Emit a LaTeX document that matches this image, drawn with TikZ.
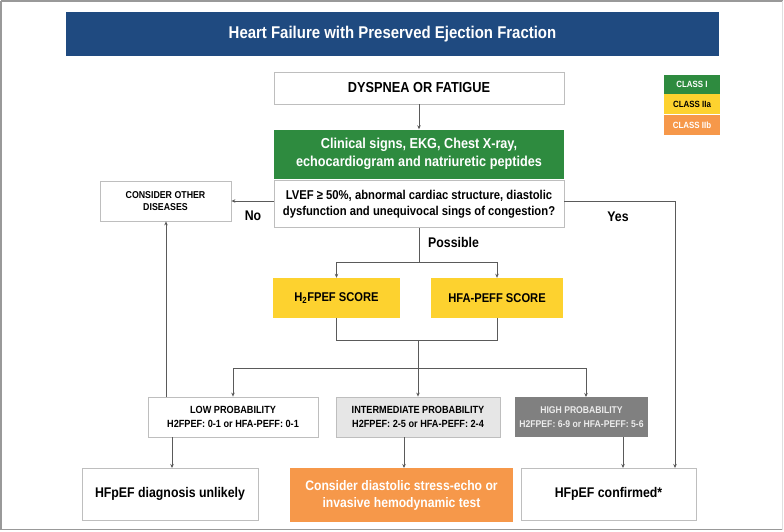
\documentclass[tikz,border=0pt]{standalone}
\usepackage{fontspec}
\setmainfont{Liberation Sans}
\newfontfamily\nar{Liberation Sans}[FakeStretch=0.88]
\usetikzlibrary{arrows.meta}
\definecolor{titleblue}{RGB}{31,74,128}
\definecolor{hgreen}{RGB}{46,139,63}
\definecolor{hyellow}{RGB}{253,210,47}
\definecolor{horange}{RGB}{246,152,74}
\definecolor{hgray}{RGB}{128,128,128}
\definecolor{lgray}{RGB}{230,230,230}
\definecolor{linec}{RGB}{90,90,90}
\definecolor{boxline}{RGB}{190,190,190}
\tikzset{
  box/.style={rectangle, draw=boxline, line width=0.8pt, fill=white, inner sep=0pt, align=center, font=\nar\bfseries},
  fbox/.style={rectangle, draw=none, inner sep=0pt, align=center, font=\nar\bfseries},
  conn/.style={draw=linec, line width=0.8pt},
  arr/.style={conn, -{Stealth[length=4pt,width=3.5pt]}},
  lbl/.style={font=\nar\bfseries\fontsize{14}{16}\selectfont, inner sep=0pt}
}
\begin{document}
\begin{tikzpicture}[x=1pt,y=-1pt]
\useasboundingbox (0,0) rectangle (784,531);
\draw[gray!80, line width=1.5pt] (0.75,0.75) -- (783.25,0.75);
\draw[gray!80, line width=1.5pt] (0.75,0.75) -- (0.75,530);
\draw[gray!80, line width=1.5pt] (0.75,529.5) -- (783.25,529.5);
\draw[gray!25, line width=1pt] (782,0.75) -- (782,530);
% title
\node[fbox, fill=titleblue, text=white, minimum width=653pt, minimum height=44pt, font=\nar\bfseries\fontsize{17}{20}\selectfont] (title) at (392.5,34) {Heart Failure with Preserved Ejection Fraction};
% legend
\node[fbox, fill=hgreen, text=white, minimum width=56pt, minimum height=19pt, font=\nar\bfseries\fontsize{9}{10}\selectfont] (c1) at (692,84) {CLASS I};
\node[fbox, fill=hyellow, text=black, minimum width=56pt, minimum height=20pt, font=\nar\bfseries\fontsize{9}{10}\selectfont] (c2) at (692,104) {CLASS IIa};
\node[fbox, fill=horange, text=white, minimum width=56pt, minimum height=20pt, font=\nar\bfseries\fontsize{9}{10}\selectfont] (c3) at (692,125) {CLASS IIb};
% main chain
\node[box, minimum width=290pt, minimum height=32pt, font=\nar\bfseries\fontsize{14.5}{16}\selectfont] (dys) at (419,88) {DYSPNEA OR FATIGUE};
\node[fbox, fill=hgreen, text=white, minimum width=290pt, minimum height=49pt, font=\nar\bfseries\fontsize{14.4}{18}\selectfont] (green) at (419,154) {Clinical signs, EKG, Chest X-ray,\\ echocardiogram and natriuretic peptides};
\node[box, minimum width=290pt, minimum height=47pt, font=\nar\bfseries\fontsize{12.8}{16}\selectfont] (lvef) at (419,204) {LVEF ≥ 50\%, abnormal cardiac structure, diastolic\\ dysfunction and unequivocal sings of congestion?};
\node[box, minimum width=131pt, minimum height=40pt, font=\nar\bfseries\fontsize{10}{12}\selectfont] (other) at (165.5,201) {CONSIDER OTHER\\ DISEASES};
% scores
\node[fbox, fill=hyellow, minimum width=127pt, minimum height=40pt, font=\nar\bfseries\fontsize{12.7}{15}\selectfont] (h2) at (336.5,298) {H\textsubscript{2}FPEF SCORE};
\node[fbox, fill=hyellow, minimum width=132pt, minimum height=40pt, font=\nar\bfseries\fontsize{12.7}{15}\selectfont] (hfa) at (497,298) {HFA-PEFF SCORE};
% probabilities
\node[box, minimum width=170pt, minimum height=40pt, font=\nar\bfseries\fontsize{10.4}{14}\selectfont] (low) at (233,417) {LOW PROBABILITY\\ H2FPEF: 0-1 or HFA-PEFF: 0-1};
\node[box, fill=lgray, minimum width=164pt, minimum height=40pt, font=\nar\bfseries\fontsize{10.4}{14}\selectfont] (mid) at (418,417) {INTERMEDIATE PROBABILITY\\ H2FPEF: 2-5 or HFA-PEFF: 2-4};
\node[fbox, fill=hgray, text=gray!15, minimum width=133pt, minimum height=40pt, font=\nar\bfseries\fontsize{9.8}{14}\selectfont] (high) at (581.5,417) {HIGH PROBABILITY\\ H2FPEF: 6-9 or HFA-PEFF: 5-6};
% outcomes
\node[box, minimum width=176pt, minimum height=52pt, font=\nar\bfseries\fontsize{14}{16}\selectfont] (unl) at (170,494) {HFpEF diagnosis unlikely};
\node[fbox, fill=horange, text=white, minimum width=223pt, minimum height=54pt, font=\nar\bfseries\fontsize{13.8}{17}\selectfont] (stress) at (401.5,495) {Consider diastolic stress-echo or\\ invasive hemodynamic test};
\node[box, minimum width=175pt, minimum height=52pt, font=\nar\bfseries\fontsize{14}{16}\selectfont] (conf) at (608.5,494) {HFpEF confirmed*};
% coordinates
\coordinate (pj) at (419,262);
\coordinate (sj) at (418,340);
\coordinate (pr) at (418,368);
% connectors
\draw[arr] (dys) -- (green);
\draw[arr] (lvef.west |- other.east) -- (other.east);
\node[lbl] (no) at (253,216) {No};
\draw[arr] (lvef.east |- other.east) -| (675,468);
\node[lbl] (yes) at (618,217) {Yes};
\draw[conn] (lvef.south) -- (pj);
\node[lbl, anchor=west] (poss) at (428,242) {Possible};
\draw[arr] (pj) -| (h2.north);
\draw[arr] (pj) -| (hfa.north);
\draw[conn] (h2.south) |- (sj);
\draw[conn] (hfa.south) |- (sj);
\draw[conn] (sj) -- (pr);
\draw[arr] (pr) -| (low.north);
\draw[arr] (pr) -- (mid.north);
\draw[arr] (pr) -| (586,397);
\draw[arr] (166,397) -- (other.south -| 166,0);
\draw[arr] (172,437) -- (172,468);
\draw[arr] (404,437) -- (404,468);
\draw[arr] (623,437) -- (623,468);
\end{tikzpicture}
\end{document}
